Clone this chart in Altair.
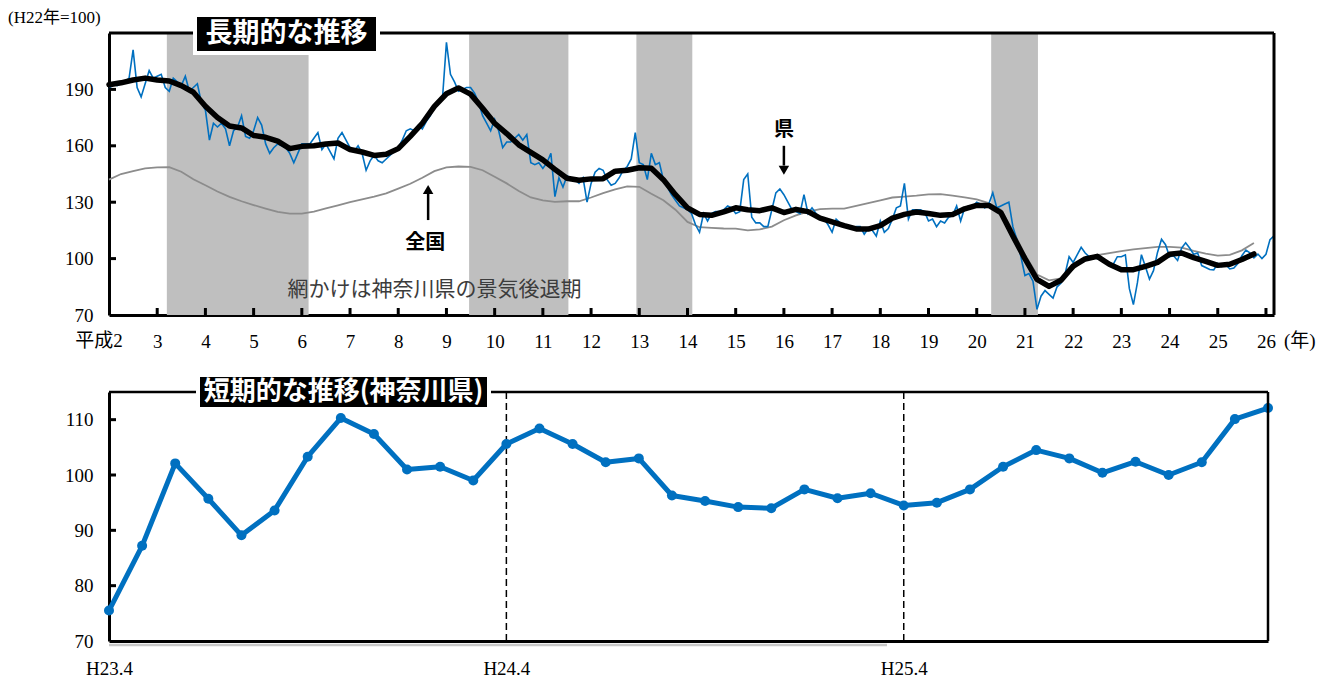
import altair as alt
import pandas as pd

# ---------------- data ----------------
# 県 (Kanagawa) monthly index, H2.1 - H23.3  (H22 = 100)
ken_monthly_early = [
    190, 193, 192, 193, 194, 196, 211, 191, 186, 193, 200, 196,   # H2
    197, 198, 191, 189, 196, 194, 192, 197, 189, 191, 193, 183,   # H3
    179, 163, 172, 170, 172, 169, 160, 168, 170, 176, 165, 164,   # H4
    168, 175, 171, 161, 156, 159, 161, 160, 159, 156, 151, 156,   # H5
    161, 161, 161, 164, 167, 158, 161, 157, 153, 164, 167, 163,   # H6
    159, 157, 160, 156, 147, 152, 155, 152, 151, 153, 155, 157,   # H7
    159, 163, 168, 169, 168, 171, 169, 173, 176, 181, 183, 185,   # H8
    215, 198, 194, 189, 190, 191, 191, 188, 183, 176, 172, 168,   # H9
    174, 168, 159, 162, 162, 164, 166, 163, 166, 151, 150, 151,   # H10
    148, 151, 156, 133, 143, 138, 144, 143, 142, 140, 143, 130,   # H11
    140, 146, 148, 147, 142, 139, 140, 143, 147, 149, 153, 167,   # H12
    151, 150, 142, 156, 150, 151, 142, 138, 134, 131, 128, 127,   # H13
    126, 124, 118, 114, 124, 120, 124, 125, 125, 126, 128, 127,   # H14
    124, 125, 142, 145, 122, 119, 119, 117, 117, 126, 135, 137,   # H15
    134, 130, 126, 125, 124, 134, 124, 127, 124, 122, 121, 118,   # H16
    114, 121, 119, 118, 117, 116, 117, 117, 113, 116, 115, 112,   # H17
    120, 114, 116, 121, 127, 128, 140, 121, 126, 126, 126, 125,   # H18
    120, 121, 117, 120, 119, 122, 123, 128, 120, 127, 128, 128,   # H19
    130, 129, 127, 129, 135, 127, 128, 129, 130, 117, 110, 101,   # H20
    91, 92, 88, 73, 80, 83, 81, 79, 85, 87, 92, 101,              # H21
    98, 102, 106, 103, 101, 101, 100, 100, 99, 98, 97, 101,       # H22
    101, 102, 84,                                                 # H23.1-3
]

# short-term panel: H23.4 - H26.3
short_labels = [
    "H23.4", "H23.5", "H23.6", "H23.7", "H23.8", "H23.9", "H23.10", "H23.11", "H23.12",
    "H24.1", "H24.2", "H24.3", "H24.4", "H24.5", "H24.6", "H24.7", "H24.8", "H24.9",
    "H24.10", "H24.11", "H24.12", "H25.1", "H25.2", "H25.3", "H25.4", "H25.5", "H25.6",
    "H25.7", "H25.8", "H25.9", "H25.10", "H25.11", "H25.12", "H26.1", "H26.2", "H26.3",
]
short_values = [
    75.5, 87.2, 102.1, 95.7, 89.1, 93.6, 103.3, 110.3, 107.4,
    101.0, 101.5, 99.0, 105.6, 108.4, 105.6, 102.3, 103.0, 96.3,
    95.3, 94.2, 94.0, 97.4, 95.8, 96.7, 94.5, 95.0, 97.4,
    101.5, 104.5, 103.0, 100.4, 102.4, 100.0, 102.3, 110.1, 112.1,
]

# 県 moving average, every 3 months from H2.1
ken_trend = [
    192.5, 193.5, 195, 196, 195, 194.5, 192, 188.5, 181, 175, 170.5, 169.5,
    165.5, 164.5, 162.5, 158.5, 159.7, 160, 161, 161.5, 158, 156.7, 154.9, 155.5,
    158.5, 165, 172, 181, 187.7, 190.8, 187.5, 180,
    172, 166.5, 160.5, 156.5, 152.5, 147.5, 142.7, 141.7, 142.4, 142.5, 146.5, 147,
    148.3, 148, 142, 134, 127, 123.5, 123, 124.8, 127, 126, 125.5, 127,
    124.5, 126.2, 125, 121.5, 119.5, 117.5, 115.8, 115.7, 117.5, 121.5,
    123.5, 124.8, 124, 123, 123.5, 126.5, 128.3, 128.3, 124.5, 112, 100, 89,
    85.2, 88.5, 96, 99.8, 101.2, 97, 94.1, 94.1, 95.9, 98, 102.3, 103,
    100.5, 98.5, 96.4, 97, 99.5, 102.5,
]

# 全国 (national), every 3 months from H2.1
zenkoku_trend = [
    142, 145, 146.5, 148, 148.5, 148.7, 146.2, 142.2, 139, 135.7, 132.8, 130.5,
    128.5, 126.6, 124.8, 123.9, 123.9, 125, 126.7, 128.3, 130, 131.5, 133, 134.7,
    137.2, 139.8, 143, 146.5, 148.5, 149, 148.8, 147,
    143.5, 140, 136, 132.5, 131, 130.2, 130.5, 130.5, 132.5, 134.8, 136.8, 138.4,
    138.2, 134.5, 131, 126, 119.5, 116.7, 116.3, 116, 115.9, 115, 115.5, 117,
    120.4, 123, 125, 126.3, 126.6, 126.6, 128, 129.5, 131, 132.5,
    133, 133.5, 134.2, 134.3, 133.5, 132.6, 131.5, 129.5, 126, 115, 102, 91.5,
    88.4, 89.5, 94.5, 100.3, 101.8, 102.9, 104, 104.9, 105.6, 106.2, 106.2, 105.8,
    104.1, 102.6, 101.6, 102, 104.4, 108.3,
]

# recession periods of Kanagawa (in Heisei years)
recession_start = [3.20, 9.47, 12.94, 20.30]
recession_end = [6.14, 11.53, 14.10, 21.27]

year_ticks = list(range(3, 27))
long_y_ticks = [70, 100, 130, 160, 190]
short_y_ticks = [70, 80, 90, 100, 110]
short_x_ticks = ["H23.4", "H24.4", "H25.4"]
short_dashed = ["H24.4", "H25.4"]

# ---------------- build tables ----------------
ken_monthly = ken_monthly_early + short_values
df_ken = pd.DataFrame({"t": [2 + i / 12 for i in range(len(ken_monthly))], "v": ken_monthly})
df_trend = pd.DataFrame({"t": [2 + 3 * k / 12 for k in range(len(ken_trend))], "v": ken_trend})
df_zen = pd.DataFrame({"t": [2 + 3 * k / 12 for k in range(len(zenkoku_trend))], "v": zenkoku_trend})
df_rec = pd.DataFrame({"s": recession_start, "e": recession_end})
df_yt = pd.DataFrame({"t": year_ticks})
df_lyt = pd.DataFrame({"v": long_y_ticks[1:]})
df_short = pd.DataFrame({"m": short_labels, "v": short_values})
df_sdash = pd.DataFrame({"m": short_dashed})
df_syt = pd.DataFrame({"v": short_y_ticks[1:]})
one = alt.Data(values=[{}])

SERIF = "Liberation Serif, Noto Sans CJK JP"
GOTHIC = "Noto Sans CJK JP"
BLUE = "#0070C0"
LBL = 19

W1, H1 = 1165, 282
W2, H2 = 1159, 249
T_END = 2 + (len(ken_monthly) - 1) / 12


def xt(field):
    return alt.X(field, type="quantitative",
                 scale=alt.Scale(domain=[2, T_END], nice=False, zero=False),
                 axis=alt.Axis(values=year_ticks, title=None, grid=False, ticks=False,
                               domainWidth=3, domainColor="black", format="d",
                               labelFont=SERIF, labelFontSize=LBL, labelColor="black",
                               labelPadding=17, labelFlush=False, labelOverlap=False))


def yt(field):
    return alt.Y(field, type="quantitative",
                 scale=alt.Scale(domain=[70, 220], nice=False, zero=False),
                 axis=alt.Axis(values=long_y_ticks, title=None, grid=False, ticks=False,
                               domainWidth=3, domainColor="black",
                               labelFont=SERIF, labelFontSize=LBL, labelColor="black",
                               labelPadding=16, labelOverlap=False))


shade = alt.Chart(df_rec).mark_rect(color="#BFBFBF").encode(
    x=xt("s"), x2="e", y=alt.value(0), y2=alt.value(H1))
zen_line = alt.Chart(df_zen).mark_line(color="#8C8C8C", strokeWidth=1.8).encode(x=xt("t"), y=yt("v"))
ken_line = alt.Chart(df_ken).mark_line(color=BLUE, strokeWidth=1.6).encode(x=xt("t"), y=yt("v"))
trend_line = alt.Chart(df_trend).mark_line(color="black", strokeWidth=5.5, strokeJoin="round",
                                           strokeCap="round").encode(x=xt("t"), y=yt("v"))

top_border = alt.Chart(one).mark_rule(color="black", strokeWidth=3).encode(
    x=alt.value(0), x2=alt.value(W1), y=alt.value(0))
right_border = alt.Chart(one).mark_rule(color="black", strokeWidth=3).encode(
    x=alt.value(W1), y=alt.value(0), y2=alt.value(H1))
x_ticks = alt.Chart(df_yt).mark_rule(color="black", strokeWidth=3).encode(
    x=xt("t"), y=alt.value(H1), y2=alt.value(H1 - 7))
y_ticks = alt.Chart(df_lyt).mark_rule(color="black", strokeWidth=3).encode(
    y=yt("v"), x=alt.value(0), x2=alt.value(7))

ann_text = alt.Chart(pd.DataFrame({
    "t": [8.56, 16.0], "v": [108.3, 168.4], "s": ["全国", "県"]})).mark_text(
    font=GOTHIC, fontSize=20, fontWeight="bold", color="black", baseline="middle").encode(
    x=xt("t"), y=yt("v"), text="s:N")
arrow_shafts = alt.Chart(pd.DataFrame({
    "t": [8.62, 16.0], "v": [120.5, 160.0], "v2": [135.5, 149.5]})).mark_rule(
    color="black", strokeWidth=2.5).encode(x=xt("t"), y=yt("v"), y2="v2")
head_up = alt.Chart(pd.DataFrame({"t": [8.62], "v": [136.8]})).mark_point(
    shape="triangle-up", filled=True, color="black", size=110, opacity=1).encode(x=xt("t"), y=yt("v"))
head_down = alt.Chart(pd.DataFrame({"t": [16.0], "v": [147.0]})).mark_point(
    shape="triangle-down", filled=True, color="black", size=110, opacity=1).encode(x=xt("t"), y=yt("v"))
note = alt.Chart(pd.DataFrame({"t": [8.75], "v": [83.5], "s": ["網かけは神奈川県の景気後退期"]})).mark_text(
    font=SERIF, fontSize=21, color="#3C3C3C", baseline="middle").encode(x=xt("t"), y=yt("v"), text="s:N")

# invisible spacer so the unit label is not clipped at the top edge
spacer = alt.Chart(one).mark_rect(opacity=0).encode(
    x=alt.value(-20), x2=alt.value(-10), y=alt.value(-25), y2=alt.value(-23))
unit_txt = alt.Chart(one).mark_text(font=SERIF, fontSize=17, color="black", align="left",
                                    baseline="middle", text="(H22年=100)").encode(
    x=alt.value(-101), y=alt.value(-15))
heisei_txt = alt.Chart(one).mark_text(font=SERIF, fontSize=LBL, color="black", align="center",
                                      baseline="top", text="平成2").encode(
    x=alt.value(-10), y=alt.value(H1 + 17))
nen_txt = alt.Chart(one).mark_text(font=SERIF, fontSize=LBL, color="black", align="left",
                                   baseline="top", text="(年)").encode(
    x=alt.value(W1 + 10), y=alt.value(H1 + 17))
title_box1 = alt.Chart(one).mark_rect(color="black", stroke="white", strokeWidth=4).encode(
    x=alt.value(86), x2=alt.value(269), y=alt.value(-18), y2=alt.value(20))
title_txt1 = alt.Chart(one).mark_text(font=GOTHIC, fontSize=27, fontWeight="bold", color="white",
                                      align="center", baseline="middle", text="長期的な推移").encode(
    x=alt.value(177.5), y=alt.value(1))

top = alt.layer(shade, zen_line, ken_line, trend_line, top_border, right_border, x_ticks, y_ticks,
                arrow_shafts, head_up, head_down, ann_text, note, spacer, unit_txt, heisei_txt, nen_txt,
                title_box1, title_txt1).properties(width=W1, height=H1)

# ---------------- bottom panel ----------------
def xs(field):
    return alt.X(field, type="ordinal",
                 scale=alt.Scale(type="point", padding=0, domain=short_labels),
                 axis=alt.Axis(values=short_x_ticks, title=None, grid=False, ticks=False, labelAngle=0,
                               domainWidth=3, domainColor="black",
                               labelFont=SERIF, labelFontSize=LBL, labelColor="black",
                               labelPadding=18, labelOverlap=False))


def ys(field):
    return alt.Y(field, type="quantitative",
                 scale=alt.Scale(domain=[70, 115], nice=False, zero=False),
                 axis=alt.Axis(values=short_y_ticks, title=None, grid=False, ticks=False,
                               domainWidth=3, domainColor="black",
                               labelFont=SERIF, labelFontSize=LBL, labelColor="black",
                               labelPadding=16, labelOverlap=False))


shadow = alt.Chart(one).mark_rule(color="#C8C8C8", strokeWidth=2.5).encode(
    x=alt.value(0), x2=alt.value(778), y=alt.value(H2 + 4))
dashes = alt.Chart(df_sdash).mark_rule(color="black", strokeWidth=1.5, strokeDash=[7, 4]).encode(
    x=xs("m"), y=alt.value(0), y2=alt.value(H2))
s_line = alt.Chart(df_short).mark_line(color=BLUE, strokeWidth=5, strokeJoin="round").encode(
    x=xs("m"), y=ys("v"))
s_pts = alt.Chart(df_short).mark_circle(color=BLUE, size=100, opacity=1).encode(x=xs("m"), y=ys("v"))
top_border2 = alt.Chart(one).mark_rule(color="black", strokeWidth=2.5).encode(
    x=alt.value(0), x2=alt.value(W2), y=alt.value(0))
right_border2 = alt.Chart(one).mark_rule(color="black", strokeWidth=2.5).encode(
    x=alt.value(W2), y=alt.value(0), y2=alt.value(H2))
y_ticks2 = alt.Chart(df_syt).mark_rule(color="black", strokeWidth=3).encode(
    y=ys("v"), x=alt.value(0), x2=alt.value(7))
title_box2 = alt.Chart(one).mark_rect(color="black", stroke="white", strokeWidth=4).encode(
    x=alt.value(89), x2=alt.value(380), y=alt.value(-17), y2=alt.value(17))
title_txt2 = alt.Chart(one).mark_text(font=GOTHIC, fontSize=26, fontWeight="bold", color="white",
                                      align="center", baseline="middle",
                                      text="短期的な推移(神奈川県)").encode(
    x=alt.value(234.5), y=alt.value(0))

bottom = alt.layer(shadow, dashes, s_line, s_pts, top_border2, right_border2, y_ticks2,
                   title_box2, title_txt2).properties(width=W2, height=H2)

chart = alt.vconcat(top, bottom, spacing=77, bounds="flush").properties(
    padding=0, background="white").configure_view(stroke=None)

chart.save("out.html", embed_options={"renderer": "svg", "actions": False})
